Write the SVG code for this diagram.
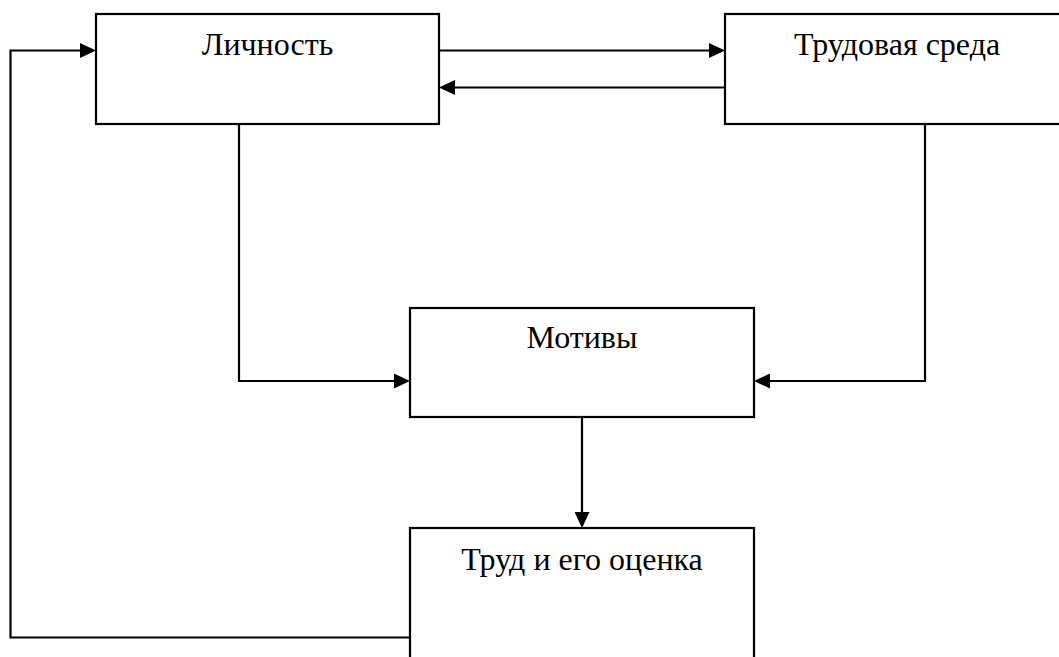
<svg xmlns="http://www.w3.org/2000/svg" width="1059" height="657" viewBox="0 0 1059 657">
<style>
.box{fill:#fff;stroke:#000;stroke-width:2.2}
.lbl{font-family:"Liberation Serif","Times New Roman",serif;font-size:32px;fill:#000;text-anchor:middle}
.con{fill:none;stroke:#000;stroke-width:2.2}
</style>
<defs>
<marker id="arr" markerWidth="16" markerHeight="15" refX="13" refY="7.5" orient="auto" markerUnits="userSpaceOnUse">
<path d="M0,0 L16,7.5 L0,15 z" fill="#000"/>
</marker>
</defs>
<rect width="1059" height="657" fill="#fff"/>
<g id="node-lichnost">
<rect class="box" x="96" y="14" width="343" height="110"/>
<text class="lbl" x="267.5" y="55">Личность</text>
</g>
<g id="node-sreda">
<rect class="box" x="725" y="14" width="345" height="110"/>
<text class="lbl" x="897" y="55">Трудовая среда</text>
</g>
<g id="node-motivy">
<rect class="box" x="410" y="308" width="344" height="109"/>
<text class="lbl" x="582" y="348">Мотивы</text>
</g>
<g id="node-trud">
<rect class="box" x="410" y="528" width="344" height="140"/>
<text class="lbl" x="582" y="570">Труд и его оценка</text>
</g>
<g id="connectors">
<path class="con" d="M439 50.5 H722" marker-end="url(#arr)"/>
<path class="con" d="M725 87.5 H442" marker-end="url(#arr)"/>
<path class="con" d="M239 124 V381 H407" marker-end="url(#arr)"/>
<path class="con" d="M925 124 V381 H757" marker-end="url(#arr)"/>
<path class="con" d="M582 417 V525" marker-end="url(#arr)"/>
<path class="con" d="M410 637.5 H10.5 V50.5 H93" marker-end="url(#arr)"/>
</g>
</svg>
